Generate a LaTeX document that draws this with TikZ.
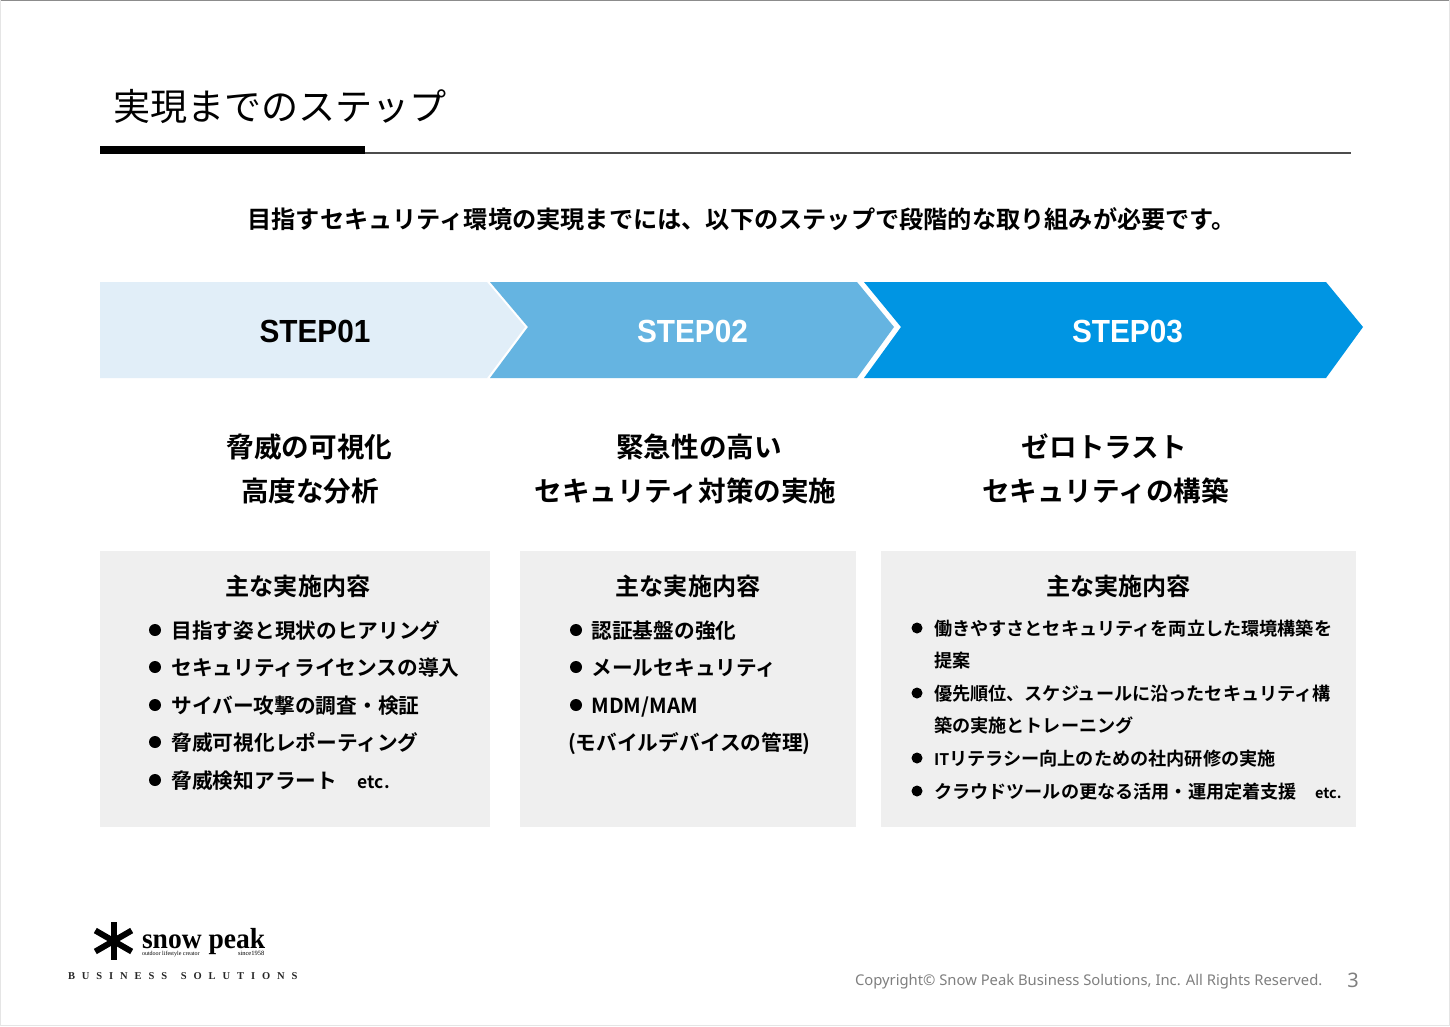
\documentclass[tikz,border=0pt]{standalone}
\usetikzlibrary{calc}
\usepackage{fontspec}
\setmainfont{Noto Sans CJK JP}[BoldFont={* Bold}]
\newfontfamily\cjkreg{Noto Sans CJK JP}
\newfontfamily\cjkbold{Noto Sans CJK JP Bold}
\newfontfamily\stepfont{Liberation Sans Bold}
\newfontfamily\logofont{Liberation Serif}
\newfontfamily\logobold{Liberation Serif Bold}
\newfontfamily\logospaced[LetterSpace=66]{Liberation Serif Bold}
\newfontfamily\footfont{Noto Sans}
\newcommand{\fsz}[1]{\fontsize{#1}{#1}\selectfont}
\newcommand{\stepword}[1]{\scalebox{0.93}[1]{#1}}
\definecolor{stepa}{HTML}{E1EEF8}
\definecolor{stepb}{HTML}{65B4E1}
\definecolor{stepc}{HTML}{0095E3}
\definecolor{panelgray}{HTML}{EFEFEF}
\definecolor{footgray}{HTML}{7F7F7F}
\tikzset{
  txt/.style={inner sep=0pt,outer sep=0pt,text=black},
  ctext/.style={txt,anchor=base},
  ltext/.style={txt,anchor=base west},
  titletext/.style={ltext,font=\cjkreg\fsz{37.1}},
  leadtext/.style={ltext,font=\cjkbold\fsz{24.2}},
  steptext/.style={ctext,font=\stepfont\fsz{32}},
  headtext/.style={ctext,font=\cjkbold\fsz{27.6}},
  panelhead/.style={ctext,font=\cjkbold\fsz{24.1}},
  itemtext/.style={ltext,font=\cjkbold\fsz{20.7}},
  smallitem/.style={ltext,font=\cjkbold\fsz{18.15}},
  panel/.style={fill=panelgray,draw=none},
  bulletdot/.style={circle,fill=black,inner sep=0pt,minimum size=12pt,anchor=center},
  smalldot/.style={circle,fill=black,inner sep=0pt,minimum size=11pt,anchor=center},
}
\begin{document}
\begin{tikzpicture}[x=1pt,y=-1pt]
\useasboundingbox (0,0) rectangle (1450,1026);
\fill[white] (0,0) rectangle (1450,1026);
\draw[black!45,line width=1pt] (0,0.5) -- (1450,0.5);
\draw[black!10,line width=1pt] (0.5,0) -- (0.5,1026) (1449.5,0) -- (1449.5,1026) (0,1025.5) -- (1450,1025.5);
% title
\node[titletext] (title) at (113,120) {実現までのステップ};
\fill[black!70] (365,151.5) rectangle (1351,153.5);
\fill[black] (100,146) rectangle (365,153.5);
\node[leadtext] (lead) at (247.5,228) {目指すセキュリティ環境の実現までには、以下のステップで段階的な取り組みが必要です。};
% chevrons
\fill[stepa] (100,282) -- (487,282) -- (525,327) -- (487,378) -- (100,378) -- cycle;
\fill[stepb] (490,282) -- (857,282) -- (894,327) -- (857,378) -- (490,378) -- (528,327) -- cycle;
\fill[stepc] (864,282) -- (1326,282) -- (1363,327) -- (1326,378) -- (864,378) -- (901,327) -- cycle;
\node[steptext] (s1) at (315,342) {\stepword{STEP01}};
\node[steptext,text=white] (s2) at (692.5,342) {\stepword{STEP02}};
\node[steptext,text=white] (s3) at (1127.5,342) {\stepword{STEP03}};
% headings
\node[headtext] (h1a) at (309.5,457.6) {脅威の可視化};
\node[headtext] (h1b) at (310,501.6) {高度な分析};
\node[headtext] (h2a) at (699,457.6) {緊急性の高い};
\node[headtext] (h2b) at (685.5,501.6) {セキュリティ対策の実施};
\node[headtext] (h3a) at (1104.5,457.6) {ゼロトラスト};
\node[headtext] (h3b) at (1105.5,501.6) {セキュリティの構築};
% panels
\fill[panel] (100,551) rectangle (490,826.5);
\fill[panel] (520,551) rectangle (856,826.5);
\fill[panel] (881,551) rectangle (1356,826.5);
\node[panelhead] (p1) at (298,595) {主な実施内容};
\node[panelhead] (p2) at (688,595) {主な実施内容};
\node[panelhead] (p3) at (1118.5,595) {主な実施内容};
% panel 1
\node[bulletdot] (b11) at (155,630) {};
\node[bulletdot] (b12) at (155,667) {};
\node[bulletdot] (b13) at (155,705) {};
\node[bulletdot] (b14) at (155,742) {};
\node[bulletdot] (b15) at (155,780) {};
\node[itemtext] (i11) at (171.5,638) {目指す姿と現状のヒアリング};
\node[itemtext] (i12) at (171.5,675) {セキュリティライセンスの導入};
\node[itemtext] (i13) at (171.5,713) {サイバー攻撃の調査・検証};
\node[itemtext] (i14) at (171.5,750) {脅威可視化レポーティング};
\node[itemtext] (i15) at (171.5,788) {脅威検知アラート　{\fsz{17.5}etc.}};
% panel 2
\node[bulletdot] (b21) at (576,630) {};
\node[bulletdot] (b22) at (576,667) {};
\node[bulletdot] (b23) at (576,705) {};
\node[itemtext] (i21) at (591.5,638) {認証基盤の強化};
\node[itemtext] (i22) at (591.5,675) {メールセキュリティ};
\node[itemtext] (i23) at (591.5,713) {MDM/MAM};
\node[itemtext] (i24) at (568,750) {(モバイルデバイスの管理)};
% panel 3
\node[smalldot] (b31) at (917,628) {};
\node[smalldot] (b32) at (917,693) {};
\node[smalldot] (b33) at (917,758) {};
\node[smalldot] (b34) at (917,791) {};
\node[smallitem] (i31) at (934,635) {働きやすさとセキュリティを両立した環境構築を};
\node[smallitem] (i32) at (934,667) {提案};
\node[smallitem] (i33) at (934,700) {優先順位、スケジュールに沿ったセキュリティ構};
\node[smallitem] (i34) at (934,732) {築の実施とトレーニング};
\node[smallitem] (i35) at (934,765) {{\fsz{16}IT}リテラシー向上のための社内研修の実施};
\node[smallitem] (i36) at (934,798) {クラウドツールの更なる活用・運用定着支援　{\fsz{14.5}etc.}};
% logo
\draw[black,line width=6pt] (113.5,922) -- (113.5,960);
\foreach \a in {30,-30}{
  \draw[black,line width=6pt] ($(113.5,941)+(\a:21)$) -- ($(113.5,941)+(\a+180:21)$);
}
\node[ltext,font=\logobold\fsz{29}] (logo) at (142,948) {\scalebox{0.95}[1]{snow peak}};
\node[ltext,font=\logofont\fsz{6}] (logoa) at (142,955.5) {outdoor lifestyle creator};
\node[ltext,font=\logofont\fsz{6.5}] (logob) at (238,955.5) {since1958};
\node[ltext,font=\logospaced\fsz{10.5},text=black!85] (logoc) at (68,979.5) {BUSINESS\hspace{4pt} SOLUTIONS};
% footer
\node[ltext,font=\footfont\fsz{14.8},text=footgray] (copy) at (855,985) {Copyright© Snow Peak Business Solutions, Inc. All Rights Reserved.};
\node[ctext,font=\footfont\fsz{20},text=footgray] (pg) at (1353,987) {3};
\end{tikzpicture}
\end{document}
